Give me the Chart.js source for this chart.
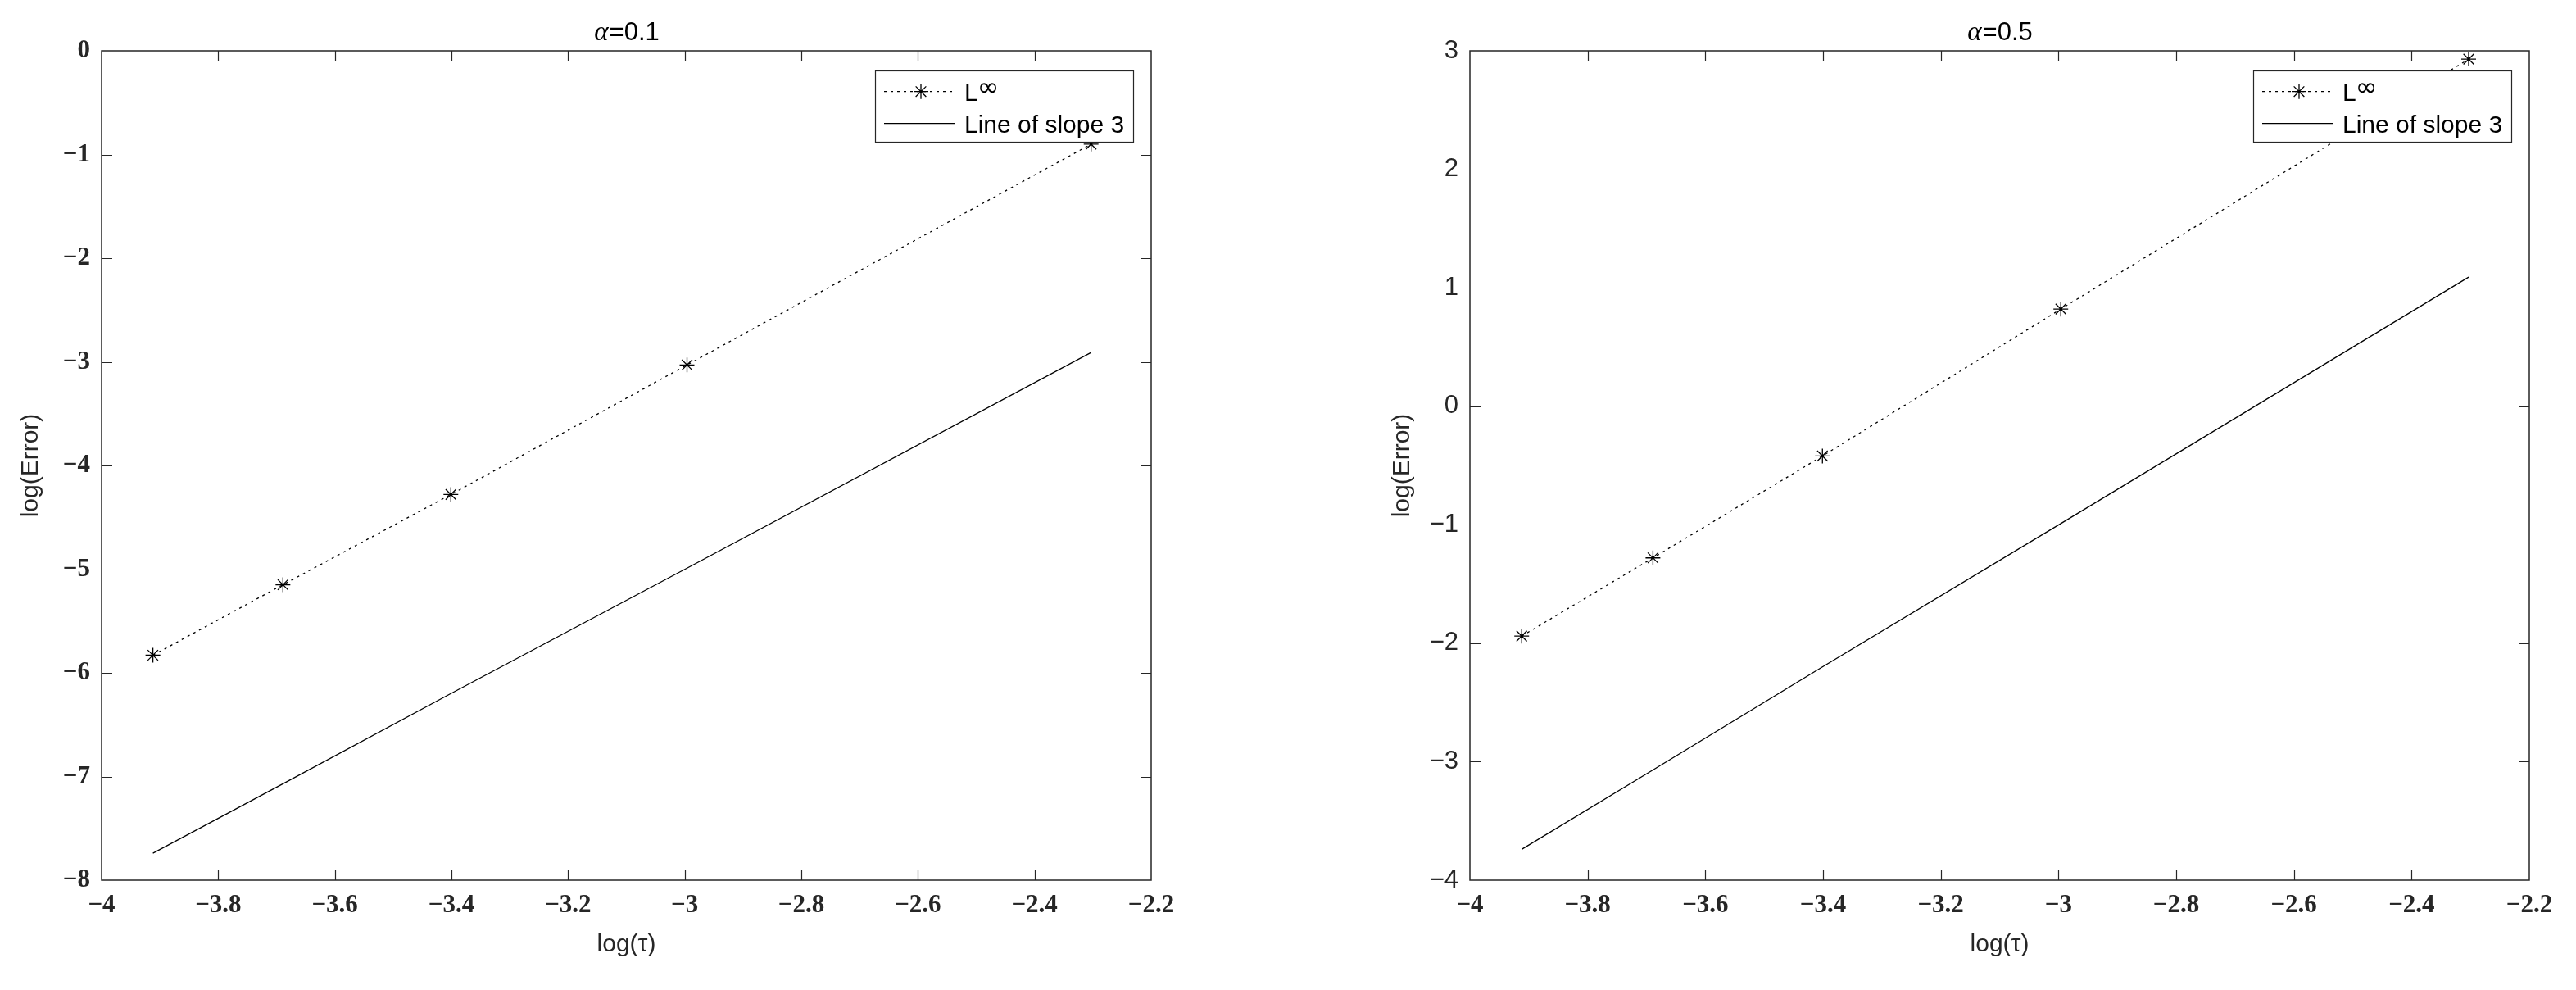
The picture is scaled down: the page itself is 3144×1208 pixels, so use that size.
<!DOCTYPE html>
<html>
<head>
<meta charset="utf-8">
<script src="https://cdn.jsdelivr.net/npm/chart.js@4.4.1/dist/chart.umd.min.js"></script>
<style>
  html, body { margin: 0; padding: 0; background: #fff; }
  #wrap { position: relative; width: 3144px; height: 1208px; }
  canvas { position: absolute; top: 0; }
  #chartA { left: 0; }
  #chartB { left: 1572px; }
</style>
</head>
<body>
<div id="wrap">
  <canvas id="chartA" width="1572" height="1208"></canvas>
  <canvas id="chartB" width="1572" height="1208"></canvas>
</div>
<script>
/* ============================================================
   DATI
============================================================ */
const logTau = [-3.912, -3.689, -3.401, -2.996, -2.303];

const errAlpha01   = [-5.83, -5.15, -4.28, -3.03, -0.90];
const slopeAlpha01 = [-7.74, -7.07, -6.20, -4.99, -2.91];

const errAlpha05   = [-1.94, -1.28, -0.42, 0.82, 2.93];
const slopeAlpha05 = [-3.74, -3.07, -2.20, -0.99, 1.09];

const xTickValues   = [-4, -3.8, -3.6, -3.4, -3.2, -3, -2.8, -2.6, -2.4, -2.2];
const yTicksAlpha01 = [-8, -7, -6, -5, -4, -3, -2, -1, 0];
const yTicksAlpha05 = [-4, -3, -2, -1, 0, 1, 2, 3];

const legendLabels = ["L∞", "Line of slope 3"];
const chartTitles  = ["α=0.1", "α=0.5"];

const AXIS_COLOR = "#262626";
const SANS  = "'Liberation Sans', Arial, sans-serif";
const SERIF = "'Liberation Serif', 'Times New Roman', serif";

/* ============================================================
   FORMATO TICK — segno meno tipografico
============================================================ */
function fmtTick(v) {
    const s = String(Math.round(Math.abs(v) * 10) / 10);
    return v < 0 ? "\u2212" + s : s;
}

/* ============================================================
   PLUGIN — box e tacche interne (stile MATLAB)
============================================================ */
const boxPlugin = {
    id: "matlabBox",
    afterDatasetsDraw(chart) {
        const { ctx, chartArea: a, scales: { x, y } } = chart;
        const tl = 13;
        ctx.save();
        ctx.strokeStyle = AXIS_COLOR;
        ctx.lineWidth = 1.5;
        ctx.strokeRect(a.left, a.top, a.right - a.left, a.bottom - a.top);
        ctx.beginPath();
        x.ticks.forEach(t => {
            const px = Math.round(x.getPixelForValue(t.value)) + 0.5;
            if (px <= a.left + 1 || px >= a.right - 1) return;
            ctx.moveTo(px, a.bottom); ctx.lineTo(px, a.bottom - tl);
            ctx.moveTo(px, a.top);    ctx.lineTo(px, a.top + tl);
        });
        y.ticks.forEach(t => {
            const py = Math.round(y.getPixelForValue(t.value)) + 0.5;
            if (py <= a.top + 1 || py >= a.bottom - 1) return;
            ctx.moveTo(a.left, py);  ctx.lineTo(a.left + tl, py);
            ctx.moveTo(a.right, py); ctx.lineTo(a.right - tl, py);
        });
        ctx.lineWidth = 1.2;
        ctx.stroke();
        ctx.restore();
    }
};

/* ============================================================
   PLUGIN — titolo con alfa in corsivo
============================================================ */
const titlePlugin = {
    id: "alphaTitle",
    afterDraw(chart) {
        const { ctx, chartArea: a } = chart;
        const txt = chart.options.plugins.alphaTitle.text;
        const sym = txt.charAt(0), rest = txt.slice(1);
        ctx.save();
        ctx.fillStyle = "#000";
        ctx.textBaseline = "alphabetic";
        ctx.textAlign = "left";
        ctx.font = "italic 33px " + SERIF;
        const w1 = ctx.measureText(sym).width;
        ctx.font = "31px " + SANS;
        const w2 = ctx.measureText(rest).width;
        const x0 = (a.left + a.right) / 2 - (w1 + w2) / 2;
        const base = a.top - 13;
        ctx.font = "italic 33px " + SERIF;
        ctx.fillText(sym, x0, base);
        ctx.font = "31px " + SANS;
        ctx.fillText(rest, x0 + w1 + 1, base);
        ctx.restore();
    }
};

/* ============================================================
   PLUGIN — legenda in alto a destra
============================================================ */
function drawAsterisk(ctx, cx, cy, r) {
    const d = r * Math.SQRT1_2;
    ctx.beginPath();
    ctx.moveTo(cx, cy - r);     ctx.lineTo(cx, cy + r);
    ctx.moveTo(cx - r, cy);     ctx.lineTo(cx + r, cy);
    ctx.moveTo(cx - d, cy - d); ctx.lineTo(cx + d, cy + d);
    ctx.moveTo(cx - d, cy + d); ctx.lineTo(cx + d, cy - d);
    ctx.stroke();
}

const legendPlugin = {
    id: "legendBox",
    afterDatasetsDraw(chart) {
        const { ctx, chartArea: a } = chart;
        const w = 315, h = 87;
        const left = a.right - 22 - w, top = a.top + 24;

        ctx.save();
        ctx.fillStyle = "#fff";
        ctx.fillRect(left, top, w, h);
        ctx.strokeStyle = AXIS_COLOR;
        ctx.lineWidth = 1.2;
        ctx.strokeRect(left + 0.5, top + 0.5, w, h);

        chart.data.datasets.forEach((ds, i) => {
            const yRow = top + 25.7 + i * 39;
            ctx.strokeStyle = ds.borderColor;
            ctx.lineWidth = ds.borderWidth;
            ctx.setLineDash(ds.borderDash || []);
            ctx.beginPath();
            ctx.moveTo(left + 11, yRow);
            ctx.lineTo(left + 98, yRow);
            ctx.stroke();
            ctx.setLineDash([]);
            if (ds.pointRadius > 0) drawAsterisk(ctx, left + 56, yRow, ds.pointRadius);

            const tx = left + 109, base = yRow + 11.6;
            ctx.fillStyle = "#000";
            ctx.textBaseline = "alphabetic";
            ctx.textAlign = "left";
            ctx.font = "30px " + SANS;
            if (ds.label.indexOf("∞") > 0) {
                const main = ds.label.replace("∞", "");
                ctx.fillText(main, tx, base);
                const mw = ctx.measureText(main).width;
                ctx.font = "32px 'DejaVu Sans', sans-serif";
                ctx.fillText("∞", tx + mw - 1, base - 6);
            } else {
                ctx.fillText(ds.label, tx, base);
            }
        });
        ctx.restore();
    }
};

/* ============================================================
   GRAFICO — costruzione comune
============================================================ */
function makeChart(id, cfg) {
    const ctx = document.getElementById(id);
    return new Chart(ctx, {
        type: "scatter",
        data: {
            datasets: [{
                label: legendLabels[0],
                data: logTau.map((x, i) => ({ x: x, y: cfg.err[i] })),
                showLine: true,
                borderColor: "#000",
                borderWidth: 1.3,
                borderDash: [3, 5],
                pointStyle: "star",
                pointRadius: 9,
                pointBorderWidth: 1.3,
                pointBorderColor: "#000",
                pointBackgroundColor: "#000"
            }, {
                label: legendLabels[1],
                data: logTau.map((x, i) => ({ x: x, y: cfg.slope[i] })),
                showLine: true,
                borderColor: "#000",
                borderWidth: 1.3,
                pointRadius: 0
            }]
        },
        options: {
            responsive: false,
            animation: false,
            events: [],
            layout: { padding: { left: 0, right: cfg.padRight, top: 62, bottom: 0 } },
            plugins: {
                legend: { display: false },
                tooltip: { enabled: false },
                title: { display: false },
                alphaTitle: { text: cfg.title }
            },
            scales: {
                x: {
                    type: "linear",
                    min: -4,
                    max: -2.2,
                    afterBuildTicks: s => { s.ticks = xTickValues.map(v => ({ value: v })); },
                    afterFit: s => { s.height = 134; },
                    grid: { display: false, drawTicks: false },
                    border: { display: false },
                    ticks: {
                        padding: 12,
                        maxRotation: 0,
                        autoSkip: false,
                        color: AXIS_COLOR,
                        font: { family: SERIF, size: 31, weight: "bold" },
                        callback: v => fmtTick(v)
                    },
                    title: {
                        display: true,
                        text: "log(τ)",
                        color: AXIS_COLOR,
                        font: { family: SANS, size: 30 },
                        padding: { top: 0, bottom: 37 }
                    }
                },
                y: {
                    type: "linear",
                    min: cfg.yTicks[0],
                    max: cfg.yTicks[cfg.yTicks.length - 1],
                    afterBuildTicks: s => { s.ticks = cfg.yTicks.map(v => ({ value: v })); },
                    afterFit: s => { s.width = cfg.yWidth; },
                    grid: { display: false, drawTicks: false },
                    border: { display: false },
                    ticks: {
                        padding: 14,
                        autoSkip: false,
                        color: AXIS_COLOR,
                        font: cfg.yFont,
                        callback: v => fmtTick(v)
                    },
                    title: {
                        display: true,
                        text: "log(Error)",
                        color: AXIS_COLOR,
                        font: { family: SANS, size: 30 },
                        padding: { top: cfg.yTitlePad, bottom: 0 }
                    }
                }
            }
        },
        plugins: [boxPlugin, legendPlugin, titlePlugin]
    });
}

makeChart("chartA", {
    title: chartTitles[0],
    err: errAlpha01,
    slope: slopeAlpha01,
    yTicks: yTicksAlpha01,
    yFont: { family: SERIF, size: 31, weight: "bold" },
    yWidth: 124,
    yTitlePad: 20,
    padRight: 167
});

makeChart("chartB", {
    title: chartTitles[1],
    err: errAlpha05,
    slope: slopeAlpha05,
    yTicks: yTicksAlpha05,
    yFont: { family: SANS, size: 31 },
    yWidth: 222,
    yTitlePad: 121.7,
    padRight: 57
});
</script>
</body>
</html>
